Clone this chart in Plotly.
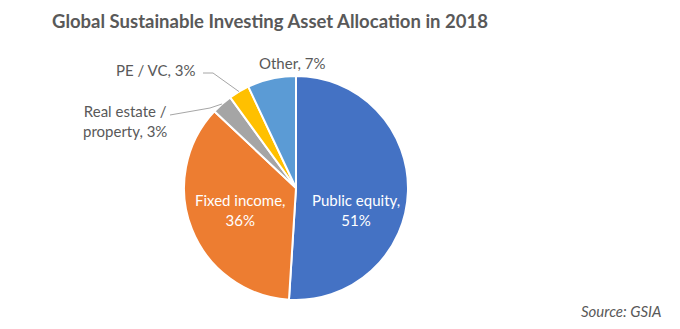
import math
import plotly.graph_objects as go

# Asset allocation shares (%)
categories = ["Public equity", "Fixed income", "Real estate /<br>property", "PE / VC", "Other"]
shares = [51, 36, 3, 3, 7]
colors = ["#4472C4", "#ED7D31", "#A5A5A5", "#FFC000", "#5B9BD5"]

W, H = 680, 329
CX, CY, R = 296, 188, 112  # pie centre and radius in pixels

def px(x):
    return x / W

def py(y):
    return 1 - y / H

fig = go.Figure(go.Pie(
    labels=categories,
    values=shares,
    sort=False,
    direction="clockwise",
    rotation=0,
    marker=dict(colors=colors, line=dict(color="white", width=2)),
    textinfo="none",
    hoverinfo="label+percent",
    showlegend=False,
    domain=dict(x=[px(CX - R), px(CX + R)], y=[py(CY + R), py(CY - R)]),
))

def slice_edge(i):
    """Point on the rim at the middle of slice i (clockwise from 12 o'clock)."""
    total = sum(shares)
    mid = (sum(shares[:i]) + shares[i] / 2) / total * 2 * math.pi
    return CX + R * math.sin(mid), CY - R * math.cos(mid)

FONT = "Lato, Calibri, sans-serif"
label_font = dict(family=FONT, size=15, color="#595959")
inner_font = dict(family=FONT, size=15, color="white")

def label(text, i):
    return f"{text}, {shares[i]}%"

annotations = [
    dict(x=px(356), y=py(210), text=f"{categories[0]},<br>{shares[0]}%", font=inner_font),
    dict(x=px(240), y=py(210), text=f"{categories[1]},<br>{shares[1]}%", font=inner_font),
    dict(x=px(125), y=py(121), text=f"{categories[2]}, {shares[2]}%", font=label_font, align="center"),
    dict(x=px(155), y=py(70), text=label(categories[3], 3), font=label_font, yanchor="middle"),
    dict(x=px(292), y=py(63), text=label(categories[4], 4), font=label_font, yanchor="middle"),
    dict(x=px(664), y=py(311), text="Source: GSIA", xanchor="right",
         font=dict(family=FONT, size=15, color="#595959", style="italic")),
]
for a in annotations:
    a.setdefault("showarrow", False)
    a.setdefault("xref", "paper")
    a.setdefault("yref", "paper")
    a.setdefault("xanchor", "center")
    a.setdefault("yanchor", "middle")

# Leader lines for the two small slices
re_x, re_y = slice_edge(2)
pe_x, pe_y = slice_edge(3)
leader = dict(color="#A6A6A6", width=1)
shapes = [
    dict(type="path", xref="paper", yref="paper", line=leader,
         path=f"M {px(170)} {py(115)} L {px(210)} {py(108)} L {px(re_x)} {py(re_y)}"),
    dict(type="path", xref="paper", yref="paper", line=leader,
         path=f"M {px(203)} {py(73)} L {px(213)} {py(73)} L {px(pe_x)} {py(pe_y)}"),
]

fig.update_layout(
    width=W, height=H,
    margin=dict(l=0, r=0, t=0, b=0),
    paper_bgcolor="white",
    plot_bgcolor="white",
    title=dict(text="<b>Global Sustainable Investing Asset Allocation in 2018</b>",
               x=px(52), xanchor="left", y=py(22), yanchor="middle",
               font=dict(family=FONT, size=18.5, color="#595959")),
    annotations=annotations,
    shapes=shapes,
)

fig.write_html("out.html")
